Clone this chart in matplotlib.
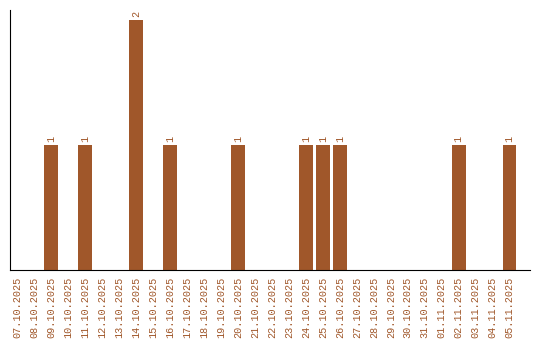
import matplotlib
matplotlib.use("Agg")
import matplotlib.pyplot as plt

dates = [
    "07.10.2025", "08.10.2025", "09.10.2025", "10.10.2025", "11.10.2025",
    "12.10.2025", "13.10.2025", "14.10.2025", "15.10.2025", "16.10.2025",
    "17.10.2025", "18.10.2025", "19.10.2025", "20.10.2025", "21.10.2025",
    "22.10.2025", "23.10.2025", "24.10.2025", "25.10.2025", "26.10.2025",
    "27.10.2025", "28.10.2025", "29.10.2025", "30.10.2025", "31.10.2025",
    "01.11.2025", "02.11.2025", "03.11.2025", "04.11.2025", "05.11.2025",
]
counts = [0, 0, 1, 0, 1, 0, 0, 2, 0, 1,
          0, 0, 0, 1, 0, 0, 0, 1, 1, 1,
          0, 0, 0, 0, 0, 0, 1, 0, 0, 1]

BAR_COLOR = "#A0572A"

fig = plt.figure(figsize=(5.4, 3.4), dpi=100)
ax = fig.add_axes([0.0185, 0.206, 0.9625, 0.765])

x = list(range(len(dates)))
bars = ax.bar(x, counts, width=0.8, color=BAR_COLOR)

for xi, c in zip(x, counts):
    if c > 0:
        ax.text(xi, c + 0.02, str(c), rotation=90, ha="center", va="bottom",
                fontsize=7.3, color=BAR_COLOR, family="Liberation Mono")

ax.set_xlim(-0.41, 30.18)
ax.set_ylim(0, 2.08)
ax.set_xticks(x)
ax.set_xticklabels(dates, rotation=90, fontsize=7.3, color=BAR_COLOR,
                   family="Liberation Mono")
ax.set_yticks([])
ax.tick_params(axis="x", length=0, pad=5)
for s in ["top", "right"]:
    ax.spines[s].set_visible(False)

fig.savefig("out.png", dpi=100)
